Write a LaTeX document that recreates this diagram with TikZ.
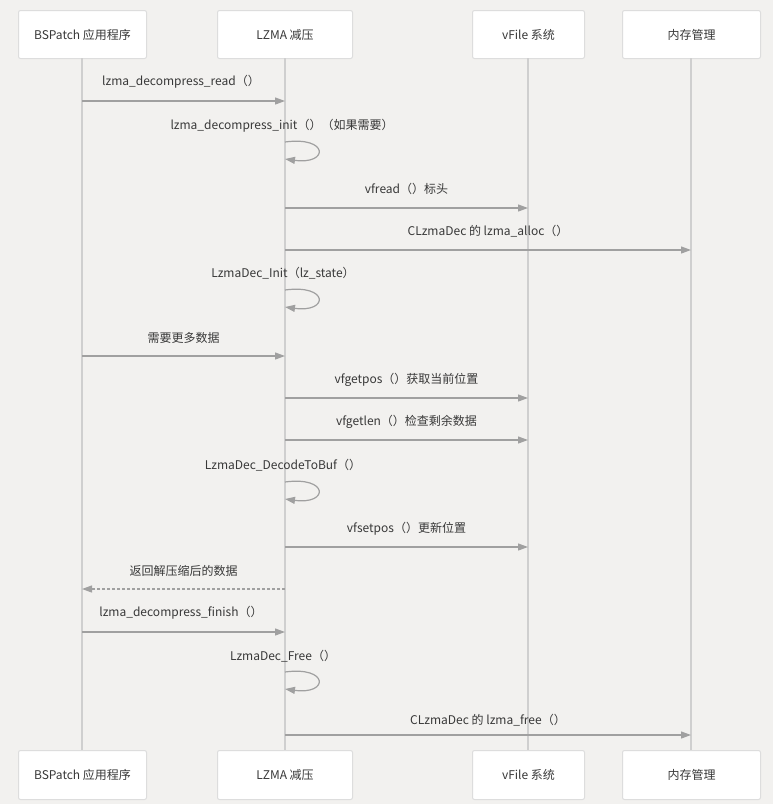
\documentclass[tikz,border=0pt]{standalone}
\usepackage{fontspec}
\setmainfont{Noto Sans CJK SC}
\usetikzlibrary{arrows.meta}
\definecolor{bgc}{HTML}{F2F1EF}
\definecolor{txtc}{HTML}{383838}
\definecolor{arrc}{HTML}{A0A0A0}
\definecolor{lifec}{HTML}{CFCFCF}
\definecolor{boxc}{HTML}{DDDDDD}
\tikzset{
  actor/.style={draw=boxc, line width=1pt, fill=white, rounded corners=2pt, text=txtc, font=\fontsize{12}{14}\selectfont, anchor=north west, inner sep=0pt},
  lifeline/.style={draw=lifec, line width=2pt},
  msg/.style={draw=arrc, line width=1.2pt, -{Triangle[length=10pt,width=7pt]}},
  ret/.style={msg, dash pattern=on 3pt off 2pt},
  selfmsg/.style={draw=arrc, line width=1.2pt, -{Triangle[length=10pt,width=7pt]}},
  lbl/.style={text=txtc, font=\fontsize{12}{14}\selectfont, inner sep=0pt, yshift=-2pt}
}
\begin{document}
\begin{tikzpicture}[x=1pt,y=-1pt]
\useasboundingbox[fill=bgc] (0,0) rectangle (773,804);
% top actors
\node[actor, minimum width=128pt, minimum height=48pt] (t1) at (18,10) {BSPatch 应用程序};
\node[actor, minimum width=135pt, minimum height=48pt] (t2) at (217,10) {LZMA 减压};
\node[actor, minimum width=112pt, minimum height=48pt] (t3) at (472,10) {vFile 系统};
\node[actor, minimum width=138pt, minimum height=48pt] (t4) at (622,10) {内存管理};
% bottom actors
\node[actor, minimum width=128pt, minimum height=49pt] (b1) at (18,750) {BSPatch 应用程序};
\node[actor, minimum width=135pt, minimum height=49pt] (b2) at (217,750) {LZMA 减压};
\node[actor, minimum width=112pt, minimum height=49pt] (b3) at (472,750) {vFile 系统};
\node[actor, minimum width=138pt, minimum height=49pt] (b4) at (622,750) {内存管理};
% lifelines
\coordinate (l1t) at (82,58); \coordinate (l1b) at (82,750);
\coordinate (l2t) at (285,58); \coordinate (l2b) at (285,750);
\coordinate (l3t) at (528,58); \coordinate (l3b) at (528,750);
\coordinate (l4t) at (691,58); \coordinate (l4b) at (691,750);
\draw[lifeline] (l1t) -- (l1b);
\draw[lifeline] (l2t) -- (l2b);
\draw[lifeline] (l3t) -- (l3b);
\draw[lifeline] (l4t) -- (l4b);
% message 1
\coordinate (m1a) at (82,101); \coordinate (m1b) at (285,101);
\draw[msg] (m1a) -- (m1b);
\node[lbl] (n1) at (181,80) {lzma\_decompress\_read（）};
% self 2
\coordinate (s2a) at (285,142); \coordinate (s2b) at (285,159);
\draw[selfmsg] (s2a) .. controls (329,136) and (329,165) .. (s2b);
\node[lbl] (n2) at (282,124) {lzma\_decompress\_init（）（如果需要）};
% message 3
\coordinate (m3a) at (285,208); \coordinate (m3b) at (528,208);
\draw[msg] (m3a) -- (m3b);
\node[lbl] (n3) at (406.5,187) {vfread（）标头};
% message 4
\coordinate (m4a) at (285,250); \coordinate (m4b) at (691,250);
\draw[msg] (m4a) -- (m4b);
\node[lbl] (n4) at (488,229) {CLzmaDec 的 lzma\_alloc（）};
% self 5
\coordinate (s5a) at (285,290); \coordinate (s5b) at (285,307);
\draw[selfmsg] (s5a) .. controls (329,284) and (329,313) .. (s5b);
\node[lbl] (n5) at (283,271) {LzmaDec\_Init（lz\_state）};
% message 6
\coordinate (m6a) at (82,356); \coordinate (m6b) at (285,356);
\draw[msg] (m6a) -- (m6b);
\node[lbl] (n6) at (183.5,336) {需要更多数据};
% message 7
\coordinate (m7a) at (285,398); \coordinate (m7b) at (528,398);
\draw[msg] (m7a) -- (m7b);
\node[lbl] (n7) at (406.5,378) {vfgetpos（）获取当前位置};
% message 8
\coordinate (m8a) at (285,440); \coordinate (m8b) at (528,440);
\draw[msg] (m8a) -- (m8b);
\node[lbl] (n8) at (406.5,420) {vfgetlen（）检查剩余数据};
% self 9
\coordinate (s9a) at (285,482); \coordinate (s9b) at (285,499);
\draw[selfmsg] (s9a) .. controls (329,476) and (329,505) .. (s9b);
\node[lbl] (n9) at (283,463) {LzmaDec\_DecodeToBuf（）};
% message 10
\coordinate (m10a) at (285,547); \coordinate (m10b) at (528,547);
\draw[msg] (m10a) -- (m10b);
\node[lbl] (n10) at (406.5,527) {vfsetpos（）更新位置};
% message 11 (return)
\coordinate (m11a) at (285,589); \coordinate (m11b) at (82,589);
\draw[ret] (m11a) -- (m11b);
\node[lbl] (n11) at (183.5,569) {返回解压缩后的数据};
% message 12
\coordinate (m12a) at (82,632); \coordinate (m12b) at (285,632);
\draw[msg] (m12a) -- (m12b);
\node[lbl] (n12) at (181,611) {lzma\_decompress\_finish（）};
% self 13
\coordinate (s13a) at (285,672); \coordinate (s13b) at (285,689);
\draw[selfmsg] (s13a) .. controls (329,666) and (329,695) .. (s13b);
\node[lbl] (n13) at (283,654) {LzmaDec\_Free（）};
% message 14
\coordinate (m14a) at (285,735); \coordinate (m14b) at (691,735);
\draw[msg] (m14a) -- (m14b);
\node[lbl] (n14) at (488,718) {CLzmaDec 的 lzma\_free（）};
\end{tikzpicture}
\end{document}
